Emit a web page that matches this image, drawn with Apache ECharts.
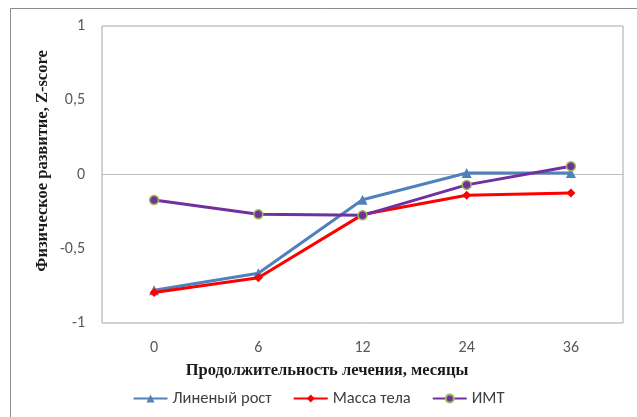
<!DOCTYPE html>
<html>
<head>
<meta charset="utf-8">
<script src="https://cdn.jsdelivr.net/npm/echarts@6/dist/echarts.min.js"></script>
<style>
  html, body { margin: 0; padding: 0; background: #fff; }
  #chart { width: 637px; height: 417px; }
</style>
</head>
<body>
<div id="chart"></div>
<script>
// Treatment duration, months
const months = ['0', '6', '12', '24', '36'];
// Z-score series
const linearGrowth = [-0.78, -0.665, -0.17, 0.01, 0.01];
const bodyMass = [-0.795, -0.695, -0.27, -0.14, -0.125];
const bmi = [-0.172, -0.268, -0.275, -0.07, 0.055];
// Y axis ticks
const yTicks = [-1, -0.5, 0, 0.5, 1];

const sansFamily = 'Carlito, "Liberation Sans", Arial, sans-serif';
const serifTitle = 'bold 16.5px "Liberation Serif", "Times New Roman", serif';
const labelFont = { fontFamily: sansFamily, fontSize: 16, color: '#595959' };

const chart = echarts.init(document.getElementById('chart'), null, { renderer: 'canvas' });

chart.setOption({
  animation: false,
  backgroundColor: '#fff',
  grid: {
    left: 102, right: 14, top: 26, bottom: 94,
    show: true, borderColor: '#a6a6a6', borderWidth: 1
  },
  graphic: [
    {
      type: 'rect', silent: true, z: -1,
      shape: { x: 10.5, y: 8.5, width: 700, height: 500 },
      style: { fill: 'none', stroke: '#8c8c8c', lineWidth: 1 }
    },
    {
      // horizontal axis title
      type: 'text', x: 327, y: 371,
      style: {
        text: 'Продолжительность лечения, месяцы',
        font: serifTitle, fill: '#1a1a1a',
        align: 'center', verticalAlign: 'middle'
      }
    },
    {
      // vertical axis title
      type: 'text', x: 43, y: 161, rotation: Math.PI / 2,
      style: {
        text: 'Физическое развитие, Z-score',
        font: serifTitle, fill: '#1a1a1a',
        align: 'center', verticalAlign: 'middle'
      }
    }
  ],
  legend: {
    top: 385, left: 'center',
    itemWidth: 34, itemHeight: 10, itemGap: 21,
    textStyle: { fontFamily: sansFamily, fontSize: 16.5, color: '#404040' },
    data: ['Линеный рост', 'Масса тела', 'ИМТ']
  },
  xAxis: {
    type: 'category',
    data: months,
    boundaryGap: true,
    axisLine: { show: false, onZero: false },
    axisTick: { show: false },
    splitLine: { show: false },
    axisLabel: Object.assign({ margin: 17 }, labelFont)
  },
  yAxis: {
    type: 'value',
    min: yTicks[0], max: yTicks[yTicks.length - 1], interval: 0.5,
    axisLine: { show: false },
    axisTick: { show: false },
    splitLine: { show: false },
    axisLabel: Object.assign({ margin: 17, formatter: v => String(v).replace('.', ',') }, labelFont)
  },
  series: [
    {
      name: 'Линеный рост', type: 'line', data: linearGrowth,
      symbol: 'triangle', symbolSize: 10,
      lineStyle: { color: '#4f81bd', width: 3 },
      itemStyle: { color: '#4f81bd' },
      markLine: {
        silent: true, symbol: 'none', label: { show: false },
        lineStyle: { color: '#bfbfbf', width: 1, type: 'solid' },
        data: [{ yAxis: 0 }], z: 1
      },
      z: 3
    },
    {
      name: 'Масса тела', type: 'line', data: bodyMass,
      symbol: 'diamond', symbolSize: 9,
      lineStyle: { color: '#ff0000', width: 3 },
      itemStyle: { color: '#ff0000' },
      z: 4
    },
    {
      name: 'ИМТ', type: 'line', data: bmi,
      symbol: 'circle', symbolSize: 9,
      lineStyle: { color: '#7030a0', width: 3 },
      itemStyle: { color: '#7030a0', borderColor: '#9bbb59', borderWidth: 1.5 },
      z: 5
    }
  ]
});
</script>
</body>
</html>
